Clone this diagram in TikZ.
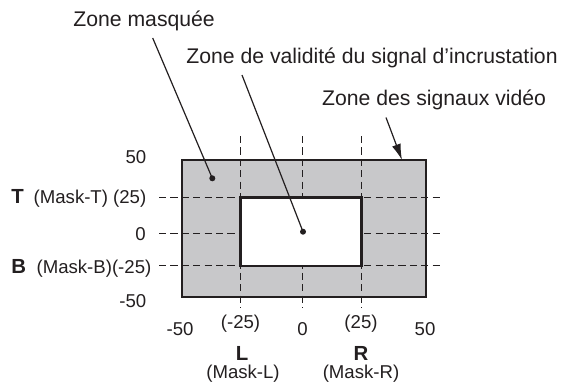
\documentclass[tikz,border=0pt]{standalone}
\usepackage{fontspec}
\setmainfont{Liberation Sans}
\usetikzlibrary{arrows.meta, positioning}
\definecolor{ZoneGrey}{HTML}{C8C8CA}
\definecolor{InkDark}{HTML}{231F20}

\begin{document}
\begin{tikzpicture}[
    x=0.5pt, y=-0.5pt,
    font=\fontsize{10.6}{12}\selectfont,
    % Text Styles
    caption/.style={inner sep=0pt, anchor=base west, text=InkDark},
    axislabel/.style={inner sep=0pt, font=\fontsize{9.3}{11}\selectfont, text=InkDark},
    boldlabel/.style={axislabel, font=\fontsize{10.2}{12}\selectfont\bfseries},
    % Geometry Styles
    frame/.style={draw=InkDark, line width=1.35pt},
    guide/.style={draw=InkDark, line width=0.6pt, dash pattern=on 3.6pt off 2.1pt},
    leader/.style={draw=InkDark, line width=0.6pt},
    dot/.style={circle, fill=InkDark, inner sep=0pt, minimum size=3pt}
]
    \useasboundingbox (0,0) rectangle (561,382);

    % ==========================================
    % ZONES
    % ==========================================
    \coordinate (OutNW) at (182,160);
    \coordinate (OutSE) at (426,297);
    \coordinate (InNW) at (240.5,197.5);
    \coordinate (InSE) at (361.5,266);

    \fill[ZoneGrey] (OutNW) rectangle (OutSE);

    % Guide lines
    \foreach \gy in {197.5, 233.5, 265.5}
        \draw[guide] (159,\gy) -- (442.5,\gy);
    \foreach \gx in {240.5, 302.5, 361.5}
        \draw[guide] (\gx,136) -- (\gx,308);

    \filldraw[frame, fill=white] (InNW) rectangle (InSE);
    \draw[frame] (OutNW) rectangle (OutSE);

    % ==========================================
    % CAPTIONS AND LEADERS
    % ==========================================
    \node[caption] (masque) at (73,26.7) {Zone masquée};
    \node[caption] (valide) at (186,63.3) {Zone de validité du signal d’incrustation};
    \node[caption] (video) at (321.7,105) {Zone des signaux vidéo};

    \node[dot] (masqueDot) at (212.3,178.3) {};
    \node[dot] (valideDot) at (303,231.7) {};
    \coordinate (masqueFoot) at (152.7,38);
    \coordinate (valideFoot) at (242,75);
    \coordinate (videoFoot) at (386,117.5);
    \coordinate (videoTip) at (402,160);

    \draw[leader] (masqueFoot) -- (masqueDot.center);
    \draw[leader] (valideFoot) -- (valideDot.center);
    \draw[leader, -{Latex[length=8pt, width=4.5pt]}] (videoFoot) -- (videoTip);

    % ==========================================
    % VERTICAL AXIS
    % ==========================================
    \node[axislabel, anchor=base east] (yTop) at (146.7,163.3) {50};
    \node[boldlabel, anchor=base west] (labT) at (11,203.3) {T};
    \node[axislabel, anchor=base east] (maskT) at (146.7,203) {(Mask-T) (25)};
    \node[axislabel, anchor=base east] (yZero) at (146,240) {0};
    \node[boldlabel, anchor=base west] (labB) at (11,273.3) {B};
    \node[axislabel, anchor=base east] (maskB) at (151.7,273) {(Mask-B)(-25)};
    \node[axislabel, anchor=base east] (yBot) at (146.7,307.7) {-50};

    % ==========================================
    % HORIZONTAL AXIS
    % ==========================================
    \node[axislabel, anchor=base] (xLeft) at (180,335) {-50};
    \node[axislabel, anchor=base] (xMaskL) at (240.5,328.5) {(-25)};
    \node[axislabel, anchor=base] (xZero) at (302.5,335) {0};
    \node[axislabel, anchor=base] (xMaskR) at (361,328.5) {(25)};
    \node[axislabel, anchor=base] (xRight) at (425,335) {50};

    \node[boldlabel, anchor=base] (labL) at (242,360.7) {L};
    \node[axislabel, anchor=base] (maskL) at (243,378.5) {(Mask-L)};
    \node[boldlabel, anchor=base] (labR) at (361,360.3) {R};
    \node[axislabel, anchor=base] (maskR) at (361,378.5) {(Mask-R)};

\end{tikzpicture}
\end{document}
